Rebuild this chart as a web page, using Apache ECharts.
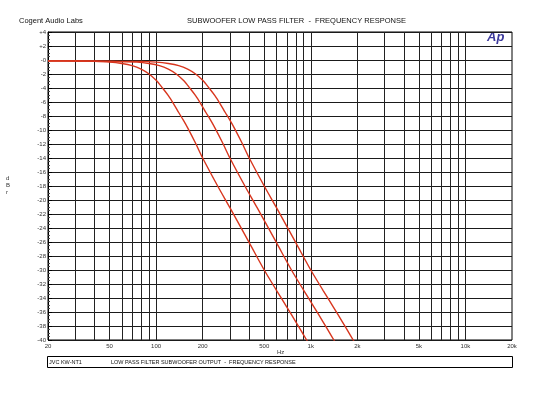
<!DOCTYPE html>
<html><head><meta charset="utf-8">
<script src="https://cdn.jsdelivr.net/npm/echarts@6/dist/echarts.min.js"></script>
<style>html,body{margin:0;padding:0;background:#fff}#c{width:540px;height:396px}</style>
</head><body><div id="c"></div>
<script>
// ---- data ----
const freq1 = [20,30,40,50,60,70,80,90,100,110,120,130,140,150,160,180,200,250,300,400,500,600,700,800,900,1000];
const db1   = [-0.15,-0.15,-0.2,-0.3,-0.5,-0.8,-1.3,-2.0,-2.9,-4.0,-5.1,-6.3,-7.5,-8.6,-9.7,-11.9,-14.0,-18.0,-21.1,-26.1,-30.0,-32.9,-35.3,-37.4,-39.3,-41.0];
const freq2 = [20,30,45,60,75,90,105,120,135,150,165,180,195,210,225,240,270,300,375,450,600,750,900,1050,1200,1350,1500];
const db2   = [-0.1,-0.15,-0.2,-0.25,-0.3,-0.5,-0.8,-1.3,-2.0,-2.9,-4.0,-5.1,-6.3,-7.5,-8.6,-9.7,-11.9,-14.0,-18.0,-21.1,-26.1,-30.0,-32.9,-35.3,-37.4,-39.3,-41.0];
const freq3 = [20,40,60,80,100,120,140,160,180,200,220,240,260,280,300,320,360,400,500,600,800,1000,1200,1400,1600,1800,2000];
const db3   = [-0.1,-0.15,-0.2,-0.2,-0.3,-0.5,-0.8,-1.3,-2.0,-2.9,-4.0,-5.1,-6.3,-7.5,-8.6,-9.7,-11.9,-14.0,-18.0,-21.1,-26.1,-30.0,-32.9,-35.3,-37.4,-39.3,-41.0];
const xTickValues = [20,50,100,200,500,1000,2000,5000,10000,20000];
const xGridValues = [30,40,50,60,70,80,90,100,200,300,400,500,600,700,800,900,1000,2000,3000,4000,5000,6000,7000,8000,9000,10000];
const yMin = -40, yMax = 4, yStep = 2;

const pairs = (f, d) => f.map((v, i) => [v, d[i]]);
const curveColor = '#d8361e';
const chart = echarts.init(document.getElementById('c'), null, {renderer: 'canvas'});
const lineSeries = (f, d) => ({
  type: 'line', data: pairs(f, d), showSymbol: false, smooth: 0.3, clip: true,
  lineStyle: {color: curveColor, width: 1.4}, z: 5, silent: true
});
chart.setOption({
  animation: false,
  backgroundColor: '#fff',
  grid: {left: 48, right: 28, top: 32, bottom: 56, show: true, borderColor: '#000', borderWidth: 1, backgroundColor: 'transparent'},
  xAxis: {
    type: 'log', logBase: 10, min: 20, max: 20000,
    axisLine: {show: false}, axisTick: {show: false}, splitLine: {show: false},
    axisLabel: {
      show: true, customValues: xTickValues, margin: 3,
      fontFamily: 'Liberation Sans, Arial', fontSize: 6, color: '#333',
      formatter: v => v >= 1000 ? (v / 1000) + 'k' : String(v)
    }
  },
  yAxis: {
    type: 'value', min: yMin, max: yMax, interval: yStep,
    axisLine: {show: true, lineStyle: {color: '#000', width: 1}},
    axisTick: {show: true, inside: true, length: 4, lineStyle: {color: '#000'}},
    minorTick: {show: true, splitNumber: 4, length: 2, lineStyle: {color: '#444'}},
    splitLine: {show: true, lineStyle: {color: '#1a1a1a', width: 1}},
    axisLabel: {
      margin: 2, fontFamily: 'Liberation Sans, Arial', fontSize: 6, color: '#333',
      formatter: v => v > 0 ? '+' + v : (v === 0 ? '-0' : String(v))
    }
  },
  series: [
    {
      type: 'line', data: [], silent: true,
      markLine: {
        silent: true, symbol: 'none', label: {show: false},
        lineStyle: {color: '#222', width: 1, type: 'solid'},
        data: xGridValues.map(v => [{coord: [v, yMin]}, {coord: [v, yMax]}])
      }
    },
    lineSeries(freq1, db1),
    lineSeries(freq2, db2),
    lineSeries(freq3, db3)
  ],
  graphic: [
    {type: 'text', left: 19, top: 17, style: {text: 'Cogent Audio Labs', font: '7.5px "Liberation Sans", Arial', fill: '#111'}},
    {type: 'text', left: 187, top: 17, style: {text: 'SUBWOOFER LOW PASS FILTER  -  FREQUENCY RESPONSE', font: '7.5px "Liberation Sans", Arial', fill: '#111'}},
    {type: 'text', left: 487, top: 31, style: {text: 'Ap', font: 'italic bold 13px "Liberation Sans", Arial', fill: '#3d3a9c'}},
    {type: 'text', left: 6, top: 175, style: {text: 'd\nB\nr', font: '6px "Liberation Sans", Arial', fill: '#333', lineHeight: 7, align: 'center', x: 2}},
    {type: 'text', left: 277, top: 349, style: {text: 'Hz', font: '6px "Liberation Sans", Arial', fill: '#333'}},
    {type: 'rect', shape: {x: 47.5, y: 356.5, width: 465, height: 11}, style: {fill: 'none', stroke: '#000', lineWidth: 1}},
    {type: 'text', left: 49, top: 359, style: {text: 'JVC KW-NT1', font: '5.5px "Liberation Sans", Arial', fill: '#111'}},
    {type: 'text', left: 111, top: 359, style: {text: 'LOW PASS FILTER SUBWOOFER OUTPUT  -  FREQUENCY RESPONSE', font: '5.5px "Liberation Sans", Arial', fill: '#111'}}
  ]
});
</script></body></html>
